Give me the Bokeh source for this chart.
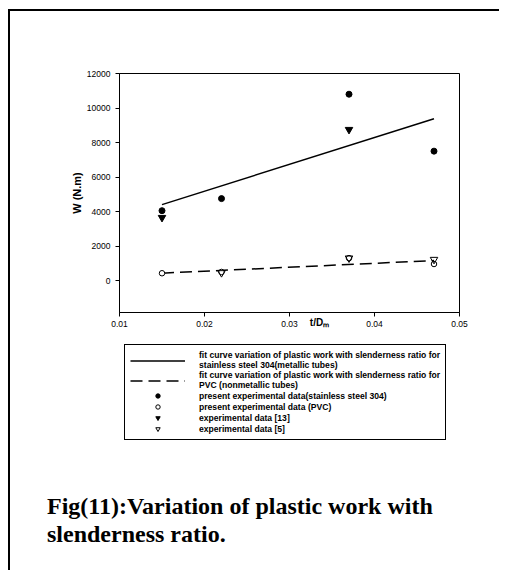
from bokeh.plotting import figure
from bokeh.layouts import column
from bokeh.models import Legend, LegendItem, FixedTicker, Range1d, Div
from bokeh.embed import file_html
from bokeh.resources import INLINE

# ---- data ----
x_present = [0.015, 0.022, 0.037, 0.047]
w_steel_present = [4050, 4750, 10800, 7500]
w_pvc_present = [425, 500, 1300, 960]
x_ref13 = [0.015, 0.037]
w_ref13 = [3650, 8750]
x_ref5 = [0.022, 0.037, 0.047]
w_ref5 = [450, 1300, 1220]
fit_x = [0.015, 0.047]
fit_steel = [4400, 9380]
fit_pvc = [430, 1160]
x_ticks = [0.01, 0.02, 0.03, 0.04, 0.05]
y_ticks = [0, 2000, 4000, 6000, 8000, 10000, 12000]

labels = [
    "fit curve variation of plastic work with slenderness ratio for\nstainless steel 304(metallic tubes)",
    "fit curve variation of plastic work with slenderness ratio for\nPVC (nonmetallic tubes)",
    "present experimental data(stainless steel 304)",
    "present experimental data (PVC)",
    "experimental data [13]",
    "experimental data [5]",
]
caption = ["Fig(11):Variation of plastic work with", "slenderness ratio."]

SANS = "Liberation Sans"
SERIF = "Liberation Serif"

# ---------------- chart ----------------
p = figure(width=489, height=331, output_backend="svg", toolbar_location=None,
           x_range=Range1d(0.01, 0.05), y_range=Range1d(-1850, 12000),
           min_border_left=109, min_border_right=40, min_border_top=62, min_border_bottom=30)
p.grid.visible = False
p.outline_line_color = "black"
p.outline_line_alpha = 1.0
p.outline_line_width = 1

p.xaxis.ticker = FixedTicker(ticks=x_ticks)
p.yaxis.ticker = FixedTicker(ticks=y_ticks)
for ax in (p.xaxis, p.yaxis):
    ax.axis_line_color = "black"
    ax.major_tick_line_color = "black"
    ax.minor_tick_line_color = None
    ax.major_tick_out = 4
    ax.major_tick_in = 0
    ax.major_label_text_font = SANS
    ax.major_label_text_font_size = "8.5px"
    ax.major_label_text_color = "black"
p.xaxis.major_label_standoff = 4
p.yaxis.major_label_standoff = 5
p.yaxis.axis_label = "W (N.m)"
p.yaxis.axis_label_text_font = SANS
p.yaxis.axis_label_text_font_size = "11px"
p.yaxis.axis_label_text_font_style = "bold"
p.yaxis.axis_label_text_color = "black"
p.yaxis.axis_label_standoff = 1
p.xaxis.axis_label = "\u2003" * 6 + "t/D\u2098"
p.xaxis.axis_label_text_font = SANS
p.xaxis.axis_label_text_font_size = "10px"
p.xaxis.axis_label_text_font_style = "bold"
p.xaxis.axis_label_text_color = "black"
p.xaxis.axis_label_standoff = -13


def draw_series(fig, visible=True):
    rs = [
        fig.line(fit_x, fit_steel, line_color="black", line_width=1.5, visible=visible),
        fig.line(fit_x, fit_pvc, line_color="black", line_width=1.5, line_dash="12 6",
                 visible=visible),
        fig.scatter(x_present, w_steel_present, marker="circle", size=6,
                    fill_color="black", line_color="black", visible=visible),
        fig.scatter(x_present, w_pvc_present, marker="circle", size=5.5,
                    fill_color="white", line_color="black", line_width=1, visible=visible),
        fig.scatter(x_ref13, w_ref13, marker="inverted_triangle", size=7.5,
                    fill_color="black", line_color="black", visible=visible),
        fig.scatter(x_ref5, w_ref5, marker="inverted_triangle", size=7.5,
                    fill_color=None, line_color="black", line_width=1, visible=visible),
    ]
    return rs


draw_series(p)

# ---------------- legend panel ----------------
q = figure(width=489, height=108, output_backend="svg", toolbar_location=None,
           x_range=Range1d(0.01, 0.05), y_range=Range1d(-1850, 12000),
           x_axis_type=None, y_axis_type=None,
           min_border_left=109, min_border_right=40, min_border_top=0, min_border_bottom=0)
q.grid.visible = False
q.outline_line_color = None
q_rs = draw_series(q, visible=False)

legend = Legend(items=[LegendItem(label=t, renderers=[r]) for t, r in zip(labels, q_rs)],
                location=(5, 10))
legend.label_text_font = SANS
legend.label_text_font_size = "8.6px"
legend.label_text_font_style = "bold"
legend.label_text_color = "black"
legend.label_text_line_height = 1.3
legend.glyph_width = 55
legend.glyph_height = 11
legend.label_height = 11
legend.label_standoff = 14
legend.spacing = 0
legend.padding = 5
legend.margin = 0
legend.border_line_color = "black"
legend.border_line_width = 1
legend.border_line_alpha = 1.0
legend.background_fill_alpha = 1.0
legend.inactive_fill_alpha = 0.0
q.add_layout(legend, "center")

# ---------------- caption ----------------
cap = Div(text=("<div style=\"font-family:'Liberation Serif';font-weight:bold;font-size:24px;"
                "line-height:28px;padding-top:42px;padding-left:37px;color:black;"
                "white-space:nowrap\">" + caption[0] + "<br>" + caption[1] + "</div>"),
          width=489, height=120, margin=0)

page = column(p, q, cap, spacing=0,
              styles={"border-left": "2px solid black", "border-top": "2px solid black",
                      "margin-left": "8px", "margin-top": "9px"})

open("out.html", "w").write(file_html(page, INLINE))
